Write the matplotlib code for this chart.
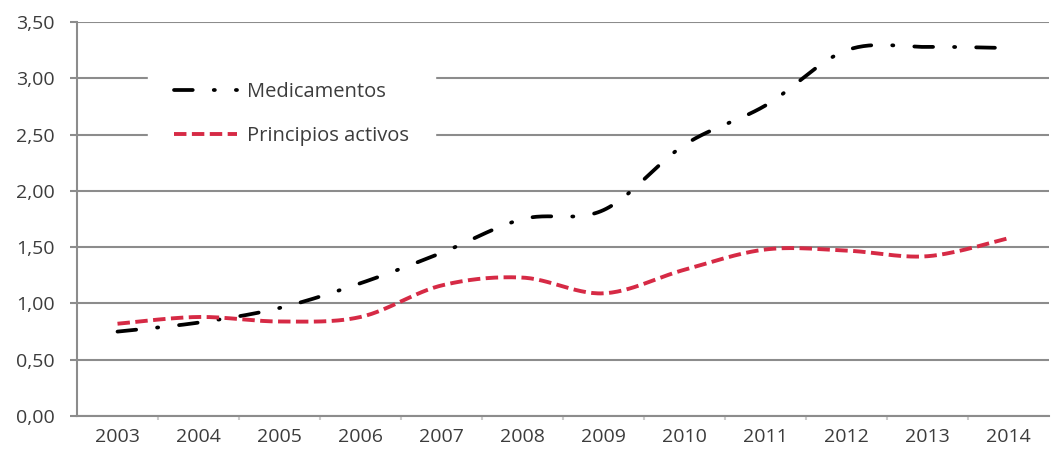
import numpy as np
import matplotlib
matplotlib.use("Agg")
import matplotlib.pyplot as plt

plt.rcParams.update({"font.family": ["Open Sans", "DejaVu Sans"], "font.size": 14})

years = ["2003", "2004", "2005", "2006", "2007", "2008",
         "2009", "2010", "2011", "2012", "2013", "2014"]
medicamentos = [0.75, 0.83, 0.96, 1.18, 1.45, 1.75, 1.83, 2.41, 2.76, 3.25, 3.28, 3.27]
principios = [0.82, 0.88, 0.84, 0.88, 1.16, 1.23, 1.09, 1.30, 1.48, 1.47, 1.42, 1.58]

GRID = "#8c8c8c"
TXT = "#3c3c3c"
RED = "#D62A45"


def smooth(xs, ys, n=30):
    # Excel-style smoothed line: cubic Bezier with Catmull-Rom control points
    xs = np.asarray(xs, float); ys = np.asarray(ys, float)
    px = np.concatenate([[xs[0]], xs, [xs[-1]]])
    py = np.concatenate([[ys[0]], ys, [ys[-1]]])
    ox, oy = [], []
    t = np.linspace(0, 1, n)
    for i in range(1, len(px) - 2):
        p0 = np.array([px[i], py[i]]); p3 = np.array([px[i + 1], py[i + 1]])
        c1 = p0 + (np.array([px[i + 1], py[i + 1]]) - np.array([px[i - 1], py[i - 1]])) / 6
        c2 = p3 - (np.array([px[i + 2], py[i + 2]]) - np.array([px[i], py[i]])) / 6
        b = ((1 - t) ** 3)[:, None] * p0 + (3 * (1 - t) ** 2 * t)[:, None] * c1 \
            + (3 * (1 - t) * t ** 2)[:, None] * c2 + (t ** 3)[:, None] * p3
        ox.extend(b[:, 0]); oy.extend(b[:, 1])
    return np.array(ox), np.array(oy)


fig = plt.figure(figsize=(10.52, 4.59), dpi=100)
ax = fig.add_axes([0.0732, 0.0937, 0.924, 0.858])
x = np.arange(len(years))

mx, my = smooth(x, medicamentos)
rx, ry = smooth(x, principios)
ax.plot(mx, my, color="black", lw=2.7, ls=(0, (5, 5.6, 0.3, 5.6)),
        dash_capstyle="round", label="Medicamentos", zorder=3)
ax.plot(rx, ry, color=RED, lw=2.8, ls=(0, (3.2, 1.4)),
        label="Principios activos", zorder=3)

ax.set_xlim(-0.5, 11.5)
ax.set_ylim(0, 3.5)
ax.set_yticks(np.arange(0, 3.51, 0.5))
ax.set_yticklabels([f"{v:.2f}".replace(".", ",") for v in np.arange(0, 3.51, 0.5)])
ax.set_xticks(x)
ax.set_xticklabels(years)
ax.set_xticks(np.arange(0.5, 11, 1), minor=True)
ax.grid(axis="y", color=GRID, lw=1.5)
ax.set_axisbelow(True)
ax.tick_params(axis="y", length=5, width=1.5, color=GRID, labelcolor=TXT, pad=11)
ax.tick_params(axis="x", which="major", length=0, labelcolor=TXT, pad=9)
ax.tick_params(axis="x", which="minor", length=3, width=1.5, color="#cccccc")
for s in ["top", "right"]:
    ax.spines[s].set_visible(False)
ax.spines["left"].set_color(GRID)
ax.spines["left"].set_linewidth(1.5)
ax.spines["bottom"].set_color(GRID)
ax.spines["bottom"].set_linewidth(1.5)

leg = ax.legend(loc="upper left", bbox_to_anchor=(0.073, 0.915), frameon=True,
                fancybox=False, edgecolor="white", framealpha=1, handlelength=3.1,
                labelspacing=1.2, fontsize=14.5, borderpad=1.3, handletextpad=0.5,
                borderaxespad=0)
for t in leg.get_texts():
    t.set_color(TXT)

fig.savefig("out.png", dpi=100)
